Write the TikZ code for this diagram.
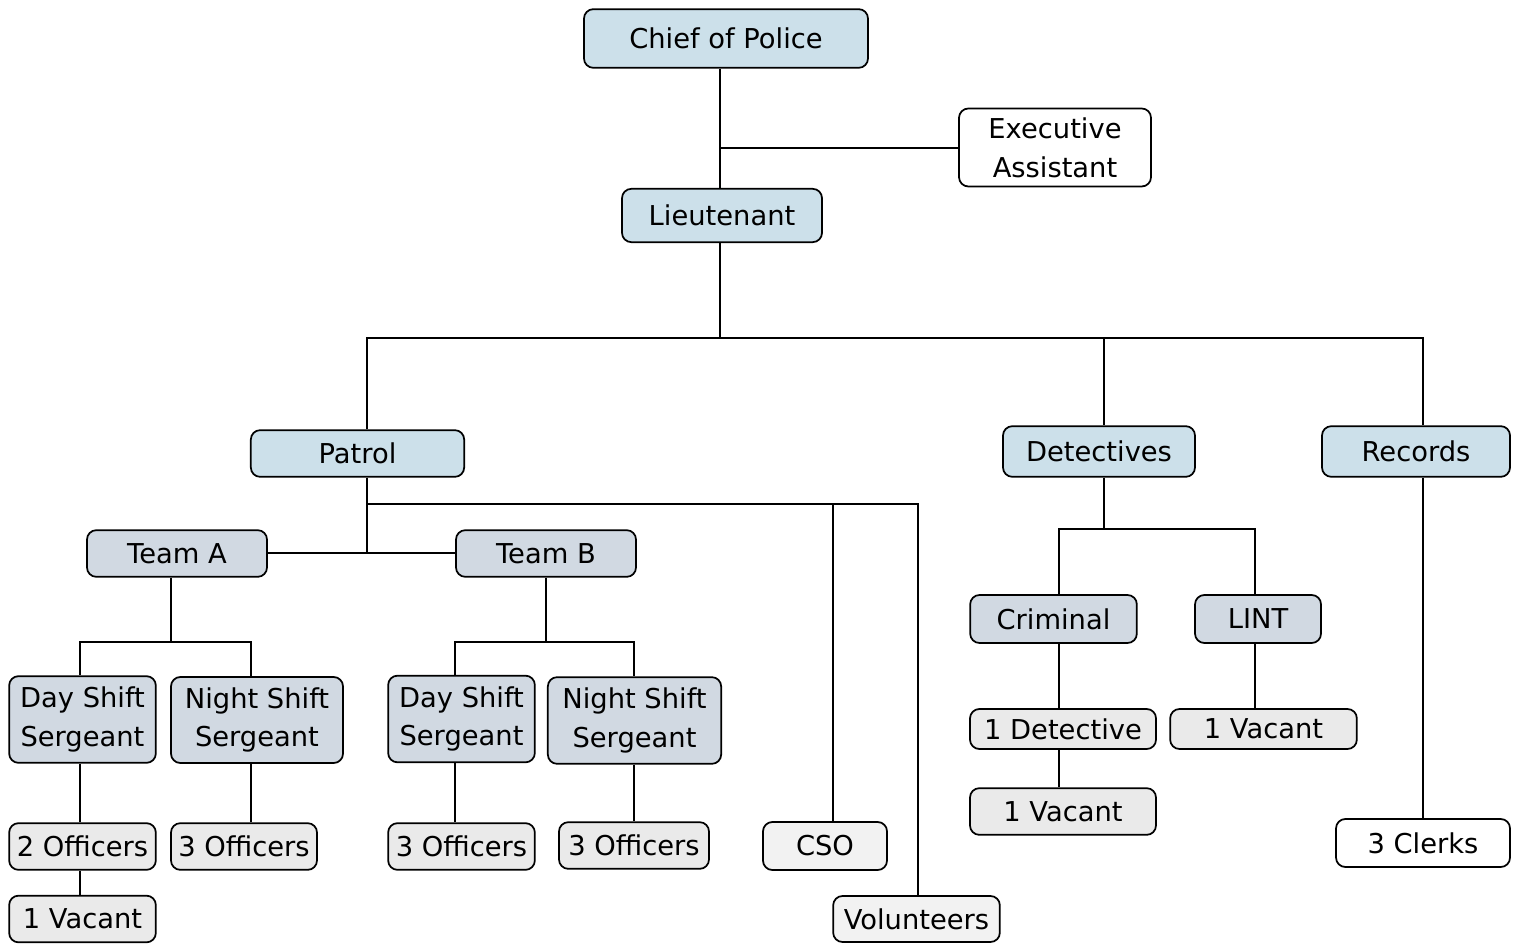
\documentclass[tikz,border=0pt]{standalone}
\usepackage{fontspec}
\setmainfont{DejaVu Sans}
\usetikzlibrary{positioning}
\definecolor{headblue}{HTML}{CCE0EA}
\definecolor{unitgray}{HTML}{D1D9E2}
\definecolor{staffgray}{HTML}{EAEAEA}
\definecolor{helpgray}{HTML}{F2F2F2}

\begin{document}
\begin{tikzpicture}[x=0.75pt,y=-0.75pt,line width=1.3pt]
    \tikzstyle{box}=[draw=black, rounded corners=7pt, inner sep=0pt, align=center, font=\fontsize{20.5}{29}\selectfont]
    \tikzstyle{head box}=[box, fill=headblue];
    \tikzstyle{unit box}=[box, fill=unitgray];
    \tikzstyle{staff box}=[box, fill=staffgray];
    \tikzstyle{help box}=[box, fill=helpgray];
    \tikzstyle{plain box}=[box, fill=white];

    \useasboundingbox (0,0) rectangle (1520,944);

    % top of the chart
    \node[head box, minimum width=213pt, minimum height=44pt] (Chief) at (726,38.5) {Chief of Police};
    \node[plain box, minimum width=144pt, minimum height=58.5pt] (Exec) at (1055,147.5) {Executive\\Assistant};
    \node[head box, minimum width=150pt, minimum height=40pt] (Lt) at (722,215.5) {Lieutenant};

    % divisions
    \node[head box, minimum width=160pt, minimum height=35pt] (Patrol) at (357.5,453.5) {Patrol};
    \node[head box, minimum width=144pt, minimum height=38pt] (Detectives) at (1099,451.5) {Detectives};
    \node[head box, minimum width=141pt, minimum height=38pt] (Records) at (1416,451.5) {Records};

    % patrol
    \node[unit box, minimum width=135pt, minimum height=35pt] (TeamA) at (177,553.5) {Team A};
    \node[unit box, minimum width=135pt, minimum height=35pt] (TeamB) at (546,553.5) {Team B};
    \node[unit box, minimum width=110pt, minimum height=65pt] (DayA) at (82.5,719.5) {Day Shift\\Sergeant};
    \node[unit box, minimum width=129pt, minimum height=64.5pt] (NightA) at (257,720) {Night Shift\\Sergeant};
    \node[unit box, minimum width=110pt, minimum height=65pt] (DayB) at (461.5,719) {Day Shift\\Sergeant};
    \node[unit box, minimum width=130pt, minimum height=65pt] (NightB) at (634.5,720.5) {Night Shift\\Sergeant};
    \node[staff box, minimum width=110pt, minimum height=35pt] (OffA) at (82.5,846.5) {2 Officers};
    \node[staff box, minimum width=109.5pt, minimum height=35pt] (OffA2) at (244,846.5) {3 Officers};
    \node[staff box, minimum width=110pt, minimum height=35pt] (VacA) at (82.5,919) {1 Vacant};
    \node[staff box, minimum width=110pt, minimum height=35pt] (OffB) at (461.5,846.5) {3 Officers};
    \node[staff box, minimum width=112.5pt, minimum height=35pt] (OffB2) at (634,845.5) {3 Officers};
    \node[help box, minimum width=93pt, minimum height=36pt] (CSO) at (825,846) {CSO};
    \node[help box, minimum width=125pt, minimum height=34.5pt] (Volunteers) at (916.5,919) {Volunteers};

    % detectives
    \node[unit box, minimum width=125pt, minimum height=36pt] (Criminal) at (1053.5,619) {Criminal};
    \node[unit box, minimum width=94.5pt, minimum height=36pt] (LINT) at (1258,619) {LINT};
    \node[staff box, minimum width=139.5pt, minimum height=30pt] (Det) at (1063,729) {1 Detective};
    \node[staff box, minimum width=139.5pt, minimum height=35pt] (VacC) at (1063,811.5) {1 Vacant};
    \node[staff box, minimum width=140pt, minimum height=30pt] (VacL) at (1263.5,729) {1 Vacant};

    % records
    \node[plain box, minimum width=130.5pt, minimum height=36pt] (Clerks) at (1423,843) {3 Clerks};

    % junctions
    \coordinate (ex) at (720,148);
    \coordinate (hq) at (720,338);
    \coordinate (pa) at (367,338);
    \coordinate (de) at (1104,338);
    \coordinate (re) at (1423,338);
    \coordinate (pt) at (367,504);
    \coordinate (tm) at (367,553);
    \coordinate (cs) at (833,504);
    \coordinate (vo) at (918,504);
    \coordinate (ta) at (171,642);
    \coordinate (da) at (80,642);
    \coordinate (na) at (251,642);
    \coordinate (tb) at (546,642);
    \coordinate (db) at (455,642);
    \coordinate (nb) at (634,642);
    \coordinate (dt) at (1104,529);
    \coordinate (cr) at (1059,529);
    \coordinate (li) at (1255,529);

    \draw (Chief.south -| ex) -- (Lt.north -| ex);
    \draw (ex) -- (Exec.west |- ex);
    \draw (Lt.south -| hq) -- (hq);
    \draw (Patrol.north -| pa) -- (pa) -- (re) -- (Records.north -| re);
    \draw (de) -- (Detectives.north -| de);

    \draw (Patrol.south -| pt) -- (tm);
    \draw (TeamA.east |- tm) -- (TeamB.west |- tm);
    \draw (pt) -- (vo) -- (Volunteers.north -| vo);
    \draw (cs) -- (CSO.north -| cs);

    \draw (TeamA.south -| ta) -- (ta);
    \draw (DayA.north -| da) -- (da) -- (na) -- (NightA.north -| na);
    \draw (DayA.south -| da) -- (OffA.north -| da);
    \draw (OffA.south -| da) -- (VacA.north -| da);
    \draw (NightA.south -| na) -- (OffA2.north -| na);

    \draw (TeamB.south -| tb) -- (tb);
    \draw (DayB.north -| db) -- (db) -- (nb) -- (NightB.north -| nb);
    \draw (DayB.south -| db) -- (OffB.north -| db);
    \draw (NightB.south -| nb) -- (OffB2.north -| nb);

    \draw (Detectives.south -| dt) -- (dt);
    \draw (Criminal.north -| cr) -- (cr) -- (li) -- (LINT.north -| li);
    \draw (Criminal.south -| cr) -- (Det.north -| cr);
    \draw (Det.south -| cr) -- (VacC.north -| cr);
    \draw (LINT.south -| li) -- (VacL.north -| li);

    \draw (Records.south -| re) -- (Clerks.north -| re);
\end{tikzpicture}
\end{document}
